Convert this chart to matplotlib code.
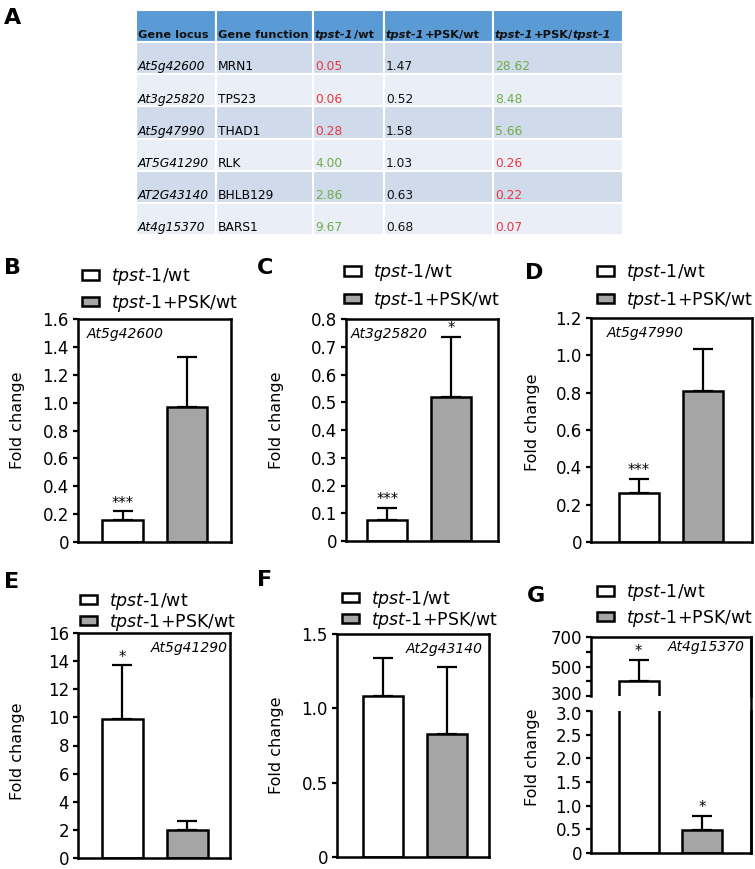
import matplotlib
matplotlib.use('Agg')
import matplotlib.pyplot as plt
from matplotlib.patches import Rectangle, Patch
from matplotlib.transforms import ScaledTranslation
import numpy as np

plt.rcParams['font.family'] = ['DejaVu Sans']
plt.rcParams['mathtext.fontset'] = 'dejavusans'

# ---------------- Table (panel A) data ----------------
table_headers = [
    [("Gene locus", False)],
    [("Gene function", False)],
    [("tpst-1", True), ("/wt", False)],
    [("tpst-1", True), ("+PSK/wt", False)],
    [("tpst-1", True), ("+PSK/", False), ("tpst-1", True)],
]
loci = ["At5g42600", "At3g25820", "At5g47990", "AT5G41290", "AT2G43140", "At4g15370"]
functions = ["MRN1", "TPS23", "THAD1", "RLK", "BHLB129", "BARS1"]
ratio_mut_wt = [0.05, 0.06, 0.28, 4.00, 2.86, 9.67]
ratio_psk_wt = [1.47, 0.52, 1.58, 1.03, 0.63, 0.68]
ratio_psk_mut = [28.62, 8.48, 5.66, 0.26, 0.22, 0.07]

# ---------------- Bar panels (B-G) data ----------------
panel_letters = ["B", "C", "D", "E", "F", "G"]
genes = ["At5g42600", "At3g25820", "At5g47990", "At5g41290", "At2g43140", "At4g15370"]
series_labels = [r'$\mathit{tpst}$-$\mathit{1}$/wt', r'$\mathit{tpst}$-$\mathit{1}$+PSK/wt']
mut_mean = [0.155, 0.075, 0.265, 9.85, 1.08, 405]
mut_err = [0.065, 0.045, 0.075, 3.85, 0.26, 140]
psk_mean = [0.97, 0.52, 0.81, 1.96, 0.825, 0.48]
psk_err = [0.36, 0.215, 0.225, 0.64, 0.455, 0.30]
mut_stars = ["***", "***", "***", "*", "", "*"]
psk_stars = ["", "*", "", "", "", "*"]

yticks_B = [0, 0.2, 0.4, 0.6, 0.8, 1.0, 1.2, 1.4, 1.6]
ylabels_B = ["0", "0.2", "0.4", "0.6", "0.8", "1.0", "1.2", "1.4", "1.6"]
yticks_C = [0, 0.1, 0.2, 0.3, 0.4, 0.5, 0.6, 0.7, 0.8]
ylabels_C = ["0", "0.1", "0.2", "0.3", "0.4", "0.5", "0.6", "0.7", "0.8"]
yticks_D = [0, 0.2, 0.4, 0.6, 0.8, 1.0, 1.2]
ylabels_D = ["0", "0.2", "0.4", "0.6", "0.8", "1.0", "1.2"]
yticks_E = [0, 2, 4, 6, 8, 10, 12, 14, 16]
ylabels_E = ["0", "2", "4", "6", "8", "10", "12", "14", "16"]
yticks_F = [0, 0.5, 1.0, 1.5]
ylabels_F = ["0", "0.5", "1.0", "1.5"]
yticks_G_low = [0, 0.5, 1.0, 1.5, 2.0, 2.5, 3.0]
ylabels_G_low = ["0", "0.5", "1.0", "1.5", "2.0", "2.5", "3.0"]
yticks_G_high = [300, 400, 500, 600, 700]
ylabels_G_high = ["300", "", "500", "", "700"]

W, H = 755, 869
fig = plt.figure(figsize=(W / 100, H / 100), dpi=100)


def box(l, t, r, b):
    return [l / W, 1 - b / H, (r - l) / W, (b - t) / H]


def rich_text(ax, x, y, segments, **kw):
    prev = None
    for s, it in segments:
        style = 'italic' if it else 'normal'
        if prev is None:
            prev = ax.text(x, y, s, style=style, va='baseline', ha='left', **kw)
        else:
            prev = ax.annotate(s, xy=(1, 0), xycoords=prev, va='bottom', ha='left',
                               style=style, **kw)


# ---------------- Panel A: table ----------------
col_edges = [0, 80, 177, 248, 357, 487]
tax = fig.add_axes(box(136, 10, 623, 235))
tax.set_xlim(0, col_edges[-1])
tax.set_ylim(7, 0)
tax.axis('off')
row_colors = ['#5b9bd5'] + ['#cfdaeb', '#e9eef7'] * 3
red, green = '#e8383d', '#70ad47'
for r in range(7):
    for c in range(5):
        tax.add_patch(Rectangle((col_edges[c], r), col_edges[c + 1] - col_edges[c], 1,
                                facecolor=row_colors[r], edgecolor='white', lw=1.5))
base_off = 0.12
for c, segs in enumerate(table_headers):
    rich_text(tax, col_edges[c] + 2, 1 - base_off, segs, fontsize=8.2,
              fontweight='bold', color='#111111')
for i in range(len(loci)):
    y = i + 2 - base_off
    tax.text(col_edges[0] + 2, y, loci[i], style='italic', fontsize=8.8, va='baseline')
    tax.text(col_edges[1] + 2, y, functions[i], fontsize=8.8, va='baseline')
    v = ratio_mut_wt[i]
    tax.text(col_edges[2] + 2, y, f"{v:.2f}", fontsize=8.8, va='baseline',
             color=red if v < 1 else green)
    tax.text(col_edges[3] + 2, y, f"{ratio_psk_wt[i]:.2f}", fontsize=8.8, va='baseline',
             color='#111111')
    v = ratio_psk_mut[i]
    tax.text(col_edges[4] + 2, y, f"{v:.2f}", fontsize=8.8, va='baseline',
             color=red if v < 1 else green)

fig.text(13 / W, 1 - 18 / H, "A", fontsize=16, fontweight='bold', ha='center', va='center')

# ---------------- Panels B-G ----------------
bar_colors = ['white', '#a5a5a5']
layout = [
    dict(box=(78, 319, 231, 542), xlim=(-0.69, 1.68), yt=yticks_B, yl=ylabels_B,
         letter=(12, 268), ylab=(18, 420), leg=(82, 290, 0.33), gl=(0.06, 'left')),
    dict(box=(346, 319, 498, 541), xlim=(-0.65, 1.74), yt=yticks_C, yl=ylabels_C,
         letter=(265, 268), ylab=(277, 420), leg=(344, 286.5, 0.38), gl=(0.03, 'left')),
    dict(box=(591, 318, 752, 542), xlim=(-0.75, 1.77), yt=yticks_D, yl=ylabels_D,
         letter=(534, 273), ylab=(533, 422), leg=(597, 286.5, 0.38), gl=(0.1, 'left')),
    dict(box=(78, 633, 230, 858), xlim=(-0.68, 1.66), yt=yticks_E, yl=ylabels_E,
         letter=(12, 582), ylab=(18, 751), leg=(80, 612, 0.0), gl=(0.987, 'right')),
    dict(box=(337, 634, 489, 857), xlim=(-0.72, 1.66), yt=yticks_F, yl=ylabels_F,
         letter=(265, 580), ylab=(277, 745), leg=(342, 610, 0.0), gl=(0.96, 'right')),
]


def style_axes(ax):
    for sp in ax.spines.values():
        sp.set_linewidth(1.8)
    ax.tick_params(axis='y', direction='out', length=3.5, width=1.6, labelsize=12, pad=3)
    ax.tick_params(axis='x', bottom=False, labelbottom=False)


def draw_bars(ax, i):
    x = np.arange(2)
    means = [mut_mean[i], psk_mean[i]]
    errs = [mut_err[i], psk_err[i]]
    stars = [mut_stars[i], psk_stars[i]]
    ax.bar(x, means, width=0.63, color=bar_colors, edgecolor='black', linewidth=1.8, zorder=2)
    ax.errorbar(x, means, yerr=[[0, 0], errs], fmt='none', ecolor='black', elinewidth=1.6,
                capsize=7.5, capthick=1.6, zorder=1)
    lo, hi = ax.get_ylim()
    for j in range(2):
        top = means[j] + errs[j]
        if stars[j] and lo <= top <= hi:
            ax.annotate(stars[j], xy=(j, top), xytext=(0, 0.5), textcoords='offset points',
                        ha='center', va='bottom', fontsize=10.5, annotation_clip=False)


def add_legend(ax, x, yc, ls):
    handles = [Patch(facecolor=c, edgecolor='black', lw=1.8) for c in bar_colors]
    ax.legend(handles=handles, labels=series_labels, loc='center left',
              bbox_to_anchor=(x / W, 1 - yc / H), bbox_transform=fig.transFigure,
              frameon=False, fontsize=12.5, handlelength=1.0, handleheight=0.45,
              handletextpad=0.65, labelspacing=ls, borderpad=0, borderaxespad=0)


for i, L in enumerate(layout):
    ax = fig.add_axes(box(*L['box']))
    ax.set_xlim(*L['xlim'])
    ax.set_ylim(L['yt'][0], L['yt'][-1])
    ax.set_yticks(L['yt'])
    ax.set_yticklabels(L['yl'])
    style_axes(ax)
    draw_bars(ax, i)
    gx, gha = L['gl']
    ax.text(gx, 0.933, genes[i], transform=ax.transAxes, ha=gha, va='center',
            style='italic', fontsize=10)
    add_legend(ax, *L['leg'])
    fig.text(L['letter'][0] / W, 1 - L['letter'][1] / H, panel_letters[i], fontsize=16,
             fontweight='bold', ha='center', va='center')
    fig.text(L['ylab'][0] / W, 1 - L['ylab'][1] / H, "Fold change", rotation=90,
             ha='center', va='center', fontsize=11.5)

# ---- Panel G: broken axis ----
i = 5
axh = fig.add_axes(box(591, 637, 751, 696))
axl = fig.add_axes(box(591, 711, 751, 853))
for ax, yt, yl in [(axh, yticks_G_high, ylabels_G_high), (axl, yticks_G_low, ylabels_G_low)]:
    ax.set_xlim(-0.75, 1.77)
    ax.set_ylim(yt[0], yt[-1])
    ax.set_yticks(yt)
    ax.set_yticklabels(yl)
    style_axes(ax)
    draw_bars(ax, i)
axh.spines['bottom'].set_visible(False)
axl.spines['top'].set_visible(False)
# nudge the two labels that meet at the axis break apart a little
lab_hi = axh.get_yticklabels()[0]
lab_hi.set_transform(lab_hi.get_transform() + ScaledTranslation(0, 2.5 / 100, fig.dpi_scale_trans))
lab_lo = axl.get_yticklabels()[-1]
lab_lo.set_transform(lab_lo.get_transform() + ScaledTranslation(0, -2 / 100, fig.dpi_scale_trans))
frame = fig.add_axes(box(591, 637, 751, 853))
frame.patch.set_visible(False)
for k, sp in frame.spines.items():
    sp.set_visible(k == 'right')
    sp.set_linewidth(1.8)
frame.set_xticks([])
frame.set_yticks([])
axh.text(0.963, 0.83, genes[i], transform=axh.transAxes, ha='right', va='center',
         style='italic', fontsize=10)
add_legend(axh, 597, 605.5, 0.27)
fig.text(536 / W, 1 - 596 / H, panel_letters[i], fontsize=16, fontweight='bold',
         ha='center', va='center')
fig.text(533 / W, 1 - 757 / H, "Fold change", rotation=90, ha='center', va='center',
         fontsize=11.5)

fig.savefig('out.png', dpi=100)
